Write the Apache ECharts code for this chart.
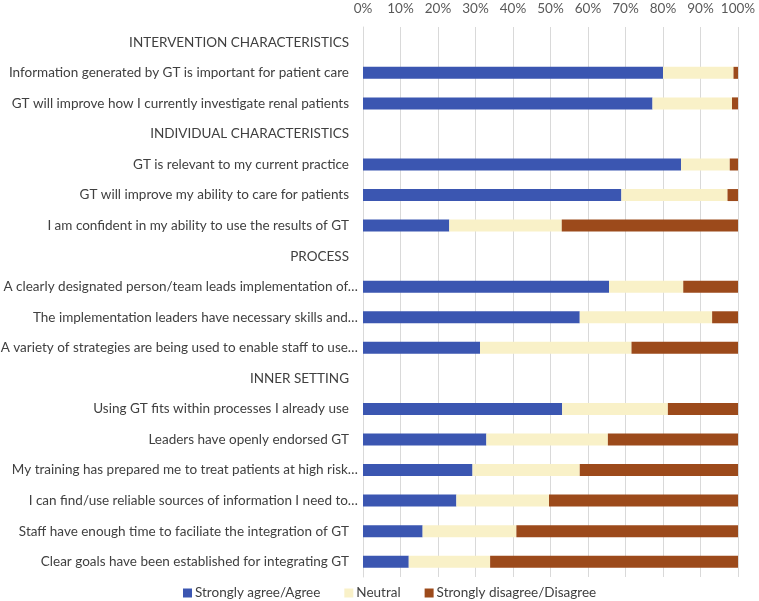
<!DOCTYPE html>
<html>
<head>
<meta charset="utf-8">
<script src="https://cdn.jsdelivr.net/npm/echarts@6/dist/echarts.min.js"></script>
<style>html,body{margin:0;padding:0;background:#fff;}#c{width:759px;height:601px;}</style>
</head>
<body>
<div id="c"></div>
<script>
const categories = [
  "INTERVENTION CHARACTERISTICS",
  "Information generated by GT is important for patient care",
  "GT will improve how I currently investigate renal patients",
  "INDIVIDUAL CHARACTERISTICS",
  "GT is relevant to my current practice",
  "GT will improve my ability to care for patients",
  "I am confident in my ability to use the results of GT",
  "PROCESS",
  "A clearly designated person/team leads implementation of…",
  "The implementation leaders have necessary skills and…",
  "A variety of strategies are being used to enable staff to use…",
  "INNER SETTING",
  "Using GT fits within processes I already use",
  "Leaders have openly endorsed GT",
  "My training has prepared me to treat patients at high risk…",
  "I can find/use reliable sources of information I need to…",
  "Staff have enough time to faciliate the integration of GT",
  "Clear goals have been established for integrating GT"
];
const seriesNames = ["Strongly agree/Agree", "Neutral", "Strongly disagree/Disagree"];
const agree    = [null, 80.0, 77.2, null, 84.8, 68.9, 23.0, null, 65.6, 57.8, 31.2, null, 53.1, 32.9, 29.2, 24.9, 15.9, 12.2];
const neutral  = [null, 18.8, 21.2, null, 13.0, 28.3, 30.0, null, 19.8, 35.3, 40.4, null, 28.2, 32.4, 28.6, 24.7, 25.0, 21.7];
const disagree = [null, 1.2, 1.6, null, 2.2, 2.8, 47.0, null, 14.6, 6.9, 28.4, null, 18.7, 34.7, 42.2, 50.4, 59.1, 66.1];

const colors = ["#3b56b1", "#f9f1c8", "#9c4a1b"];
const font = "Lato, 'Liberation Sans', sans-serif";
const chart = echarts.init(document.getElementById('c'), null, {renderer: 'canvas'});
const mk = (name, data, i) => ({
  name, type: 'bar', stack: 'total', data, barWidth: 12,
  itemStyle: {color: colors[i]}, emphasis: {disabled: true}
});
const lblStyle = {color: '#404040', fontSize: 13.5, fontFamily: font};
chart.setOption({
  animation: false,
  color: colors,
  textStyle: {fontFamily: font},
  grid: {left: 363, right: 21, top: 27, bottom: 24, containLabel: false, outerBoundsMode: 'none'},
  legend: {
    data: seriesNames, left: 183, top: 586, padding: 0, icon: 'rect', itemWidth: 9, itemHeight: 9,
    itemGap: 24, textStyle: {fontFamily: font, fontSize: 13.5, color: '#404040', padding: [0, 0, 0, -2]}
  },
  xAxis: {
    type: 'value', position: 'top', min: 0, max: 100, interval: 10,
    axisLine: {show: false}, axisTick: {show: false},
    axisLabel: {formatter: '{value}%', color: '#595959', fontSize: 13.5, fontFamily: font, margin: 11},
    splitLine: {lineStyle: {color: '#d9d9d9', width: 1}}
  },
  yAxis: {
    type: 'category', inverse: true, data: categories,
    axisLine: {show: true, lineStyle: {color: '#d9d9d9'}}, axisTick: {show: false},
    axisLabel: {
      color: '#404040', fontSize: 13.5, fontFamily: font, margin: 5,
      formatter: v => v.endsWith('…') ? '{t|' + v + '}' : '{n|' + v + '}',
      rich: {t: Object.assign({}, lblStyle), n: Object.assign({padding: [0, 9, 0, 0]}, lblStyle)}
    }
  },
  series: [mk(seriesNames[0], agree, 0), mk(seriesNames[1], neutral, 1), mk(seriesNames[2], disagree, 2)]
});
</script>
</body>
</html>
